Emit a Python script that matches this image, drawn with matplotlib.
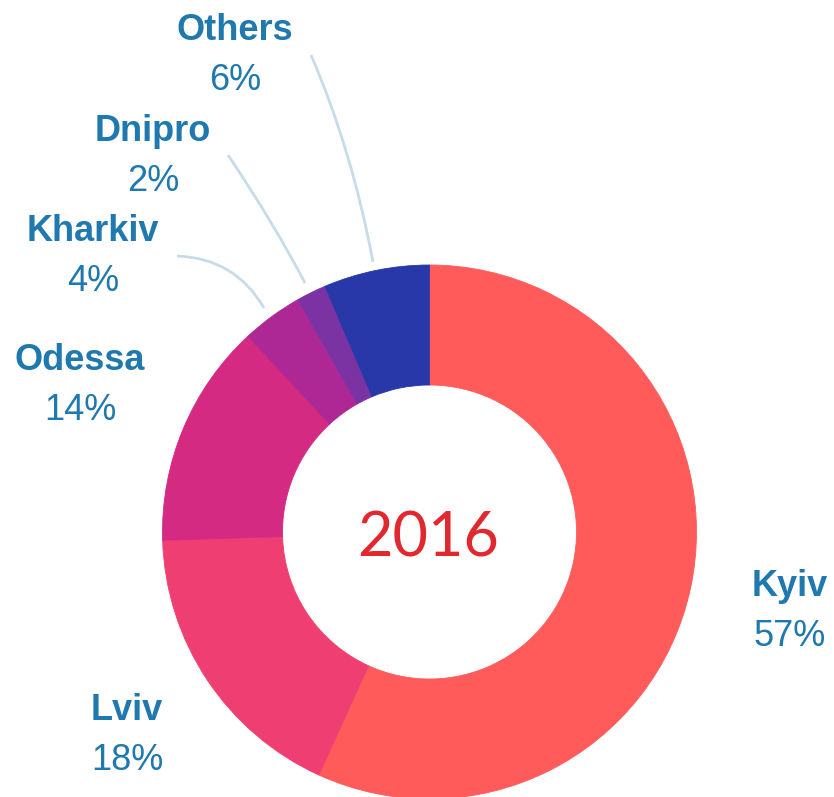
"""
Donut chart: city shares for 2016
"""
import matplotlib.pyplot as plt
from matplotlib.path import Path
from matplotlib.patches import PathPatch

W, H = 834, 797

cities = ["Kyiv", "Lviv", "Odessa", "Kharkiv", "Dnipro", "Others"]
shares = [56.8, 17.7, 13.6, 3.7, 1.8, 6.4]
colors = ["#FF5B5B", "#EF3E72", "#D42A82", "#AD2894", "#7B33A4", "#2838A8"]
year = "2016"

# label anchors (pixel coords, y down) - layout only
label_pos = {
    "Kyiv": (790, 586),
    "Lviv": (127, 710),
    "Odessa": (80, 360),
    "Kharkiv": (93, 231),
    "Dnipro": (153, 131),
    "Others": (235, 30),
}
# leader lines: start, control, end (pixel coords)
leaders = [
    ((311, 55), (352, 150), (373, 262)),   # Others
    ((228, 155), (275, 225), (305, 283)),  # Dnipro
    ((177, 256), (235, 258), (264, 308)),  # Kharkiv
]

LABEL_BLUE = "#1F78AE"
LINE_COLOR = "#C6DCE8"


def px(x, y):
    """pixel coords (y down) -> data coords (y up)"""
    return x, H - y


fig = plt.figure(figsize=(W / 100, H / 100), dpi=100)
ax = fig.add_axes([0, 0, 1, 1])

center = px(429.5, 532)
wedges, _ = ax.pie(
    shares,
    colors=colors,
    startangle=90,
    counterclock=False,
    radius=267,
    center=center,
    wedgeprops=dict(width=120, linewidth=0.6),
)
for w, c in zip(wedges, colors):
    w.set_edgecolor(c)

for name, share in zip(cities, shares):
    x, y = label_pos[name]
    ax.text(*px(x, y), name, ha="center", va="center", fontsize=26,
            fontweight="bold", color=LABEL_BLUE, family="Liberation Sans")
    ax.text(*px(x, y + 50), f"{round(share)}%", ha="center", va="center",
            fontsize=26, color=LABEL_BLUE, family="Liberation Sans")

for p0, p1, p2 in leaders:
    path = Path([px(*p0), px(*p1), px(*p2)],
                [Path.MOVETO, Path.CURVE3, Path.CURVE3])
    ax.add_patch(PathPatch(path, facecolor="none", edgecolor=LINE_COLOR,
                           linewidth=2))

ax.text(*px(428, 539), year, ha="center", va="center", fontsize=44,
        color="#E0282E", family="Lato")

ax.set_xlim(0, W)
ax.set_ylim(0, H)
ax.set_aspect("auto")
ax.axis("off")

fig.savefig("out.png", dpi=100)
